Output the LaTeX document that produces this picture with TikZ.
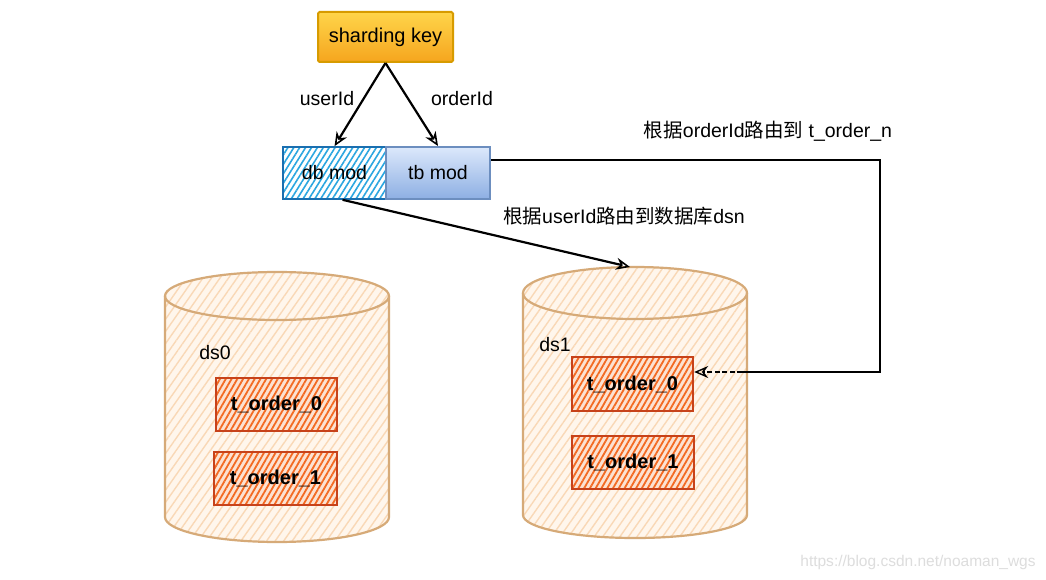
\documentclass[tikz,border=0pt]{standalone}
\usepackage{fontspec}
\setmainfont{Liberation Sans}
\newfontfamily\cjk{Noto Sans CJK SC}
\usetikzlibrary{arrows.meta,patterns.meta,calc}
\definecolor{keyline}{HTML}{D79B00}
\definecolor{keytop}{HTML}{FFD54A}
\definecolor{keybot}{HTML}{F5A51E}
\definecolor{dbline}{HTML}{1A6FB0}
\definecolor{dbhatch}{HTML}{2BA6E0}
\definecolor{tbline}{HTML}{6C8EBF}
\definecolor{tbtop}{HTML}{DCE8FB}
\definecolor{tbbot}{HTML}{8DAFE3}
\definecolor{tline}{HTML}{C7421A}
\definecolor{thatch}{HTML}{F36A22}
\definecolor{tbg}{HTML}{FCE2D2}
\definecolor{cylline}{HTML}{D6AA78}
\definecolor{cylhatch}{HTML}{F9D8B6}
\definecolor{cylbg}{HTML}{FFF6EC}
\definecolor{wm}{HTML}{DDDDDD}
\begin{document}
\begin{tikzpicture}[x=1pt,y=-1pt,
  lbl/.style={font=\fontsize{19.5}{23}\selectfont, inner sep=0pt},
  keybox/.style={draw=keyline, line width=2pt, top color=keytop, bottom color=keybot,
    minimum width=135pt, minimum height=50pt, inner sep=0pt, rounded corners=1.5pt,
    font=\fontsize{20}{24}\selectfont},
  dbbox/.style={draw=dbline, line width=2pt, preaction={fill=white},
    pattern={Lines[angle=58,distance=5pt,line width=1.6pt]}, pattern color=dbhatch,
    minimum width=103pt, minimum height=52pt, inner sep=0pt,
    font=\fontsize{19.5}{23}\selectfont},
  tbbox/.style={draw=tbline, line width=2pt, top color=tbtop, bottom color=tbbot,
    minimum width=104pt, minimum height=52pt, inner sep=0pt,
    font=\fontsize{19.5}{23}\selectfont},
  tbl/.style={draw=tline, line width=2.4pt, preaction={fill=tbg},
    pattern={Lines[angle=60,distance=5pt,line width=1.8pt]}, pattern color=thatch,
    minimum width=121pt, minimum height=53pt, inner sep=0pt,
    font=\fontsize{20}{24}\selectfont\bfseries},
  cylbody/.style={preaction={fill=cylbg},
    pattern={Lines[angle=55,distance=7pt,line width=1.4pt]}, pattern color=cylhatch},
  cyledge/.style={draw=cylline, line width=2.2pt},
  arr/.style={draw=black, line width=2.2pt, -{Stealth[open, length=14pt, width=12pt, line width=1.6pt]}},
]
\useasboundingbox[fill=white] (0,0) rectangle (1046,580);

% ---------- cylinder ds0 ----------
\path[cylbody] (165,296) -- (165,517) .. controls (165,530.8) and (215.1,542) .. (277,542)
  .. controls (338.9,542) and (389,530.8) .. (389,517) -- (389,296) -- cycle;
\path[cylbody] (277,296) ellipse [x radius=112, y radius=24];
\draw[cyledge] (165,296) -- (165,517) .. controls (165,530.8) and (215.1,542) .. (277,542)
  .. controls (338.9,542) and (389,530.8) .. (389,517) -- (389,296);
\draw[cyledge] (277,296) ellipse [x radius=112, y radius=24];

% ---------- cylinder ds1 ----------
\path[cylbody] (523,293) -- (523,515) .. controls (523,527.7) and (573.1,538) .. (635,538)
  .. controls (696.9,538) and (747,527.7) .. (747,515) -- (747,293) -- cycle;
\path[cylbody] (635,293) ellipse [x radius=112, y radius=26];
\draw[cyledge] (523,293) -- (523,515) .. controls (523,527.7) and (573.1,538) .. (635,538)
  .. controls (696.9,538) and (747,527.7) .. (747,515) -- (747,293);
\draw[cyledge] (635,293) ellipse [x radius=112, y radius=26];

% ---------- labels in cylinders ----------
\node[lbl] (ds0) at (215,353) {ds0};
\node[lbl] (ds1) at (555,345) {ds1};

% ---------- tables ----------
\node[tbl] (a0) at (276.5,404.5) {t\_order\_0};
\node[tbl, minimum width=123pt] (a1) at (275.5,478.5) {t\_order\_1};
\node[tbl, minimum height=54pt] (b0) at (632.5,384) {t\_order\_0};
\node[tbl, minimum width=122pt] (b1) at (633,462.5) {t\_order\_1};

% ---------- top boxes ----------
\node[keybox] (key) at (385.5,37) {sharding key};
\node[dbbox] (db) at (334.5,173) {db mod};
\node[tbbox] (tb) at (438,173) {tb mod};

% ---------- edge labels ----------
\node[lbl] (lu) at (327,99) {userId};
\node[lbl] (lo) at (462,99) {orderId};
\node[lbl] (lr1) at (768,131) {{\cjk 根据}orderId{\cjk 路由到} t\_order\_n};
\node[lbl] (lr2) at (624,216) {{\cjk 根据}userId{\cjk 路由到数据库}dsn};

% ---------- connectors ----------
\draw[arr] (key.south) -- (db.north);
\draw[arr] (key.south) -- (tb.north);
\coordinate (ds1top) at (630,267);
\draw[arr] ([xshift=8pt]db.south) -- (ds1top);

\coordinate (c1) at (880,160);
\coordinate (c2) at (880,372);
\coordinate (c3) at (742,372);
\draw[line width=2.2pt] ([yshift=13pt]tb.east) -- (c1) -- (c2) -- (c3);
\draw[line width=1.8pt, dash pattern=on 5pt off 2.5pt, -{Stealth[open, length=14pt, width=12pt, line width=1.4pt]}]
  (c3) -- ([yshift=12pt]b0.east);

% ---------- watermark ----------
\node[font=\fontsize{15.5}{18}\selectfont, text=wm, inner sep=0pt] (wmk) at (918,562)
  {https://blog.csdn.net/noaman\_wgs};
\end{tikzpicture}
\end{document}
